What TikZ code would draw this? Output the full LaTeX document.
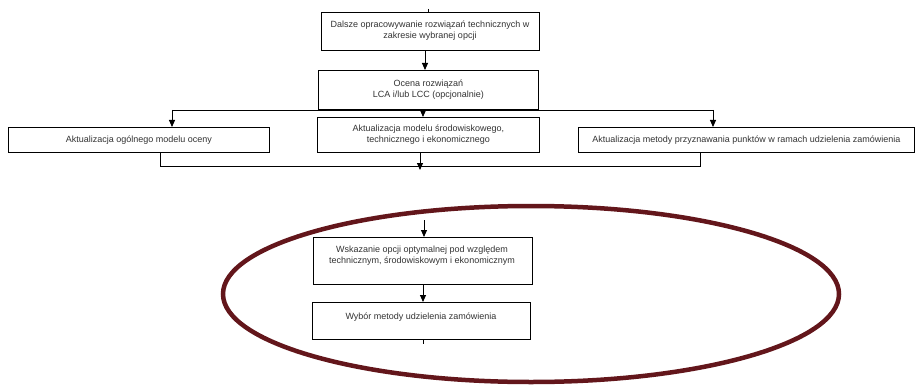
\documentclass[tikz,border=0pt]{standalone}
\usepackage{fontspec}
\setmainfont{Liberation Sans}
\usetikzlibrary{arrows.meta}
\definecolor{txt}{HTML}{333333}
\definecolor{maroon}{HTML}{63161B}
\begin{document}
\begin{tikzpicture}[x=1pt,y=-1pt,
  box/.style={draw=black,line width=0.9pt,inner sep=0pt,text=txt,align=center,font=\fontsize{9}{11}\selectfont},
  lbl/.style={text=txt,align=center,font=\fontsize{9}{11}\selectfont,anchor=north},
  conn/.style={line width=0.9pt},
  arr/.style={conn,-{Triangle[length=7pt,width=6pt]}}]
\useasboundingbox (0,0) rectangle (920,385);
\fill[white] (0,0) rectangle (920,385);
% boxes
\node[box,minimum width=218pt,minimum height=38pt,anchor=north west] (b1) at (321,12) {};
\node[lbl] (l1) at (430,17) {Dalsze opracowywanie rozwiązań technicznych w\\zakresie wybranej opcji};
\node[box,minimum width=220pt,minimum height=39pt,anchor=north west] (b2) at (318,70) {Ocena rozwiązań\\LCA i/lub LCC (opcjonalnie)};
\node[box,minimum width=261pt,minimum height=25pt,anchor=north west] (b3) at (8,127) {Aktualizacja ogólnego modelu oceny};
\node[box,minimum width=222pt,minimum height=35pt,anchor=north west] (b4) at (317,117) {Aktualizacja modelu środowiskowego,\\technicznego i ekonomicznego};
\node[box,minimum width=336pt,minimum height=25pt,anchor=north west] (b5) at (578,127) {Aktualizacja metody przyznawania punktów w ramach udzielenia zamówienia};
\node[box,minimum width=219pt,minimum height=47pt,anchor=north west] (b6) at (313,237) {};
\node[lbl] (l6) at (422,242) {Wskazanie opcji optymalnej pod względem\\technicznym, środowiskowym i ekonomicznym};
\node[box,minimum width=218pt,minimum height=37pt,anchor=north west] (b7) at (312,302) {};
\node[lbl] (l7) at (421,309) {Wybór metody udzielenia zamówienia};
% coordinates
\coordinate (t0) at (428,9);
\coordinate (hl) at (172,110);
\coordinate (hr) at (713,110);
\coordinate (hm) at (423,110);
\coordinate (bl) at (160,166);
\coordinate (br) at (700,166);
\coordinate (bm) at (420,170);
\coordinate (m0) at (424,220);
\coordinate (e0) at (423,344);
% connectors
\draw[conn] (t0) -- (t0 |- b1.north);
\draw[arr] (b1.south -| 425,0) -- (b2.north -| 425,0);
\draw[conn] (hl) -- (hr);
\draw[arr] (hl) -- (hl |- b3.north);
\draw[arr] (hm) -- (hm |- b4.north);
\draw[arr] (hr) -- (hr |- b5.north);
\draw[conn] (bl |- b3.south) -- (bl) -- (br) -- (br |- b5.south);
\draw[arr] (bm |- b4.south) -- (bm);
\draw[arr] (m0) -- (m0 |- b6.north);
\draw[arr] (b6.south -| 423,0) -- (b7.north -| 423,0);
\draw[conn] (b7.south -| e0) -- (e0);
% ellipse
\draw[maroon,line width=4.5pt] (531,294) ellipse [x radius=308pt, y radius=88pt];
\end{tikzpicture}
\end{document}
